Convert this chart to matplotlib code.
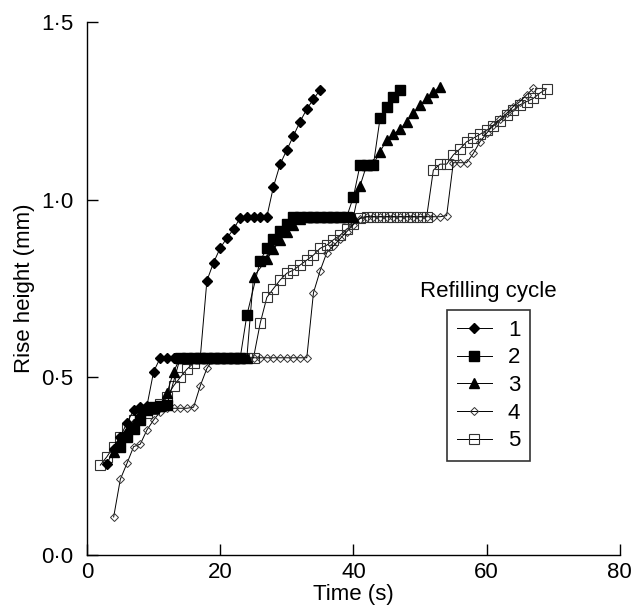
import matplotlib.pyplot as plt
from matplotlib.ticker import FuncFormatter

plt.rcParams['font.family'] = ['Liberation Sans', 'DejaVu Sans']

# rise height (mm) against time (s) for each refilling cycle
t1 = [3, 4, 5, 6, 7, 8, 9, 10, 11, 12, 13, 14, 15, 16, 17, 18, 19, 20, 21, 22,
      23, 24, 25, 26, 27, 28, 29, 30, 31, 32, 33, 34, 35]
h1 = [0.256, 0.298, 0.333, 0.372, 0.408, 0.417, 0.42, 0.516, 0.555, 0.555,
      0.555, 0.555, 0.555, 0.555, 0.555, 0.772, 0.823, 0.864, 0.892, 0.917,
      0.949, 0.952, 0.952, 0.952, 0.952, 1.037, 1.10, 1.14, 1.18, 1.22,
      1.255, 1.283, 1.309]

t2 = [5, 6, 7, 8, 9, 10, 11, 12, 14, 15, 16, 17, 18, 19, 20, 21, 22, 23, 24,
      26, 27, 28, 29, 30, 31, 32, 33, 34, 35, 36, 37, 38, 39, 40, 41, 42, 43,
      44, 45, 46, 47]
h2 = [0.305, 0.333, 0.354, 0.38, 0.408, 0.417, 0.42, 0.422, 0.555, 0.555,
      0.555, 0.555, 0.555, 0.555, 0.555, 0.555, 0.555, 0.555, 0.675, 0.828,
      0.863, 0.889, 0.913, 0.932, 0.952, 0.952, 0.952, 0.952, 0.952, 0.952,
      0.952, 0.952, 0.952, 1.008, 1.098, 1.098, 1.098, 1.229, 1.262, 1.29,
      1.31]

t3 = [4, 5, 6, 7, 8, 9, 10, 11, 12, 13, 14, 15, 16, 17, 18, 19, 20, 21, 22,
      23, 24, 25, 27, 28, 29, 30, 31, 32, 33, 34, 35, 36, 37, 38, 39, 40, 41,
      42, 43, 44, 45, 46, 47, 48, 49, 50, 51, 52, 53]
h3 = [0.29, 0.32, 0.35, 0.37, 0.40, 0.41, 0.415, 0.42, 0.455, 0.516, 0.555,
      0.555, 0.555, 0.555, 0.555, 0.555, 0.555, 0.555, 0.555, 0.555, 0.555,
      0.783, 0.832, 0.86, 0.887, 0.91, 0.929, 0.945, 0.95, 0.952, 0.952,
      0.952, 0.952, 0.952, 0.952, 0.952, 1.039, 1.098, 1.10, 1.135, 1.168,
      1.185, 1.198, 1.22, 1.243, 1.267, 1.285, 1.304, 1.318]

t4 = [4, 5, 6, 7, 8, 9, 10, 11, 12, 13, 14, 15, 16, 17, 18, 19, 20, 21, 22,
      23, 24, 25, 26, 27, 28, 29, 30, 31, 32, 33, 34, 35, 36, 37, 38, 39, 40,
      41, 42, 43, 44, 45, 46, 47, 48, 49, 50, 51, 52, 53, 54, 55, 56, 57, 58,
      59, 60, 61, 62, 63, 64, 65, 66, 67]
h4 = [0.107, 0.213, 0.258, 0.305, 0.312, 0.352, 0.38, 0.403, 0.413, 0.413,
      0.413, 0.413, 0.416, 0.476, 0.525, 0.553, 0.555, 0.555, 0.555, 0.555,
      0.555, 0.555, 0.555, 0.555, 0.555, 0.555, 0.555, 0.555, 0.555, 0.555,
      0.738, 0.80, 0.851, 0.87, 0.89, 0.91, 0.93, 0.947, 0.952, 0.952, 0.952,
      0.952, 0.952, 0.952, 0.952, 0.952, 0.952, 0.952, 0.952, 0.952, 0.955,
      1.104, 1.104, 1.104, 1.13, 1.163, 1.187, 1.21, 1.226, 1.243, 1.262,
      1.276, 1.295, 1.313]

t5 = [2, 3, 4, 5, 6, 7, 8, 9, 10, 11, 12, 13, 14, 15, 16, 17, 18, 19, 20, 21,
      22, 23, 24, 25, 26, 27, 28, 29, 30, 31, 32, 33, 34, 35, 36, 37, 38, 39,
      40, 41, 42, 43, 44, 45, 46, 47, 48, 49, 50, 51, 52, 53, 54, 55, 56, 57,
      58, 59, 60, 61, 62, 63, 64, 65, 66, 67, 68, 69]
h5 = [0.253, 0.277, 0.305, 0.333, 0.357, 0.38, 0.389, 0.40, 0.41, 0.425,
      0.446, 0.476, 0.50, 0.523, 0.54, 0.555, 0.555, 0.555, 0.555, 0.555,
      0.555, 0.555, 0.555, 0.555, 0.652, 0.725, 0.75, 0.774, 0.793, 0.802,
      0.816, 0.83, 0.844, 0.863, 0.872, 0.887, 0.90, 0.917, 0.932, 0.949,
      0.952, 0.952, 0.952, 0.952, 0.952, 0.952, 0.952, 0.952, 0.952, 0.952,
      1.083, 1.10, 1.10, 1.126, 1.143, 1.163, 1.173, 1.184, 1.196, 1.207,
      1.222, 1.238, 1.252, 1.267, 1.276, 1.285, 1.30, 1.312]

cycles = ['1', '2', '3', '4', '5']

FS = 16

fig = plt.figure(figsize=(6.32, 6.07), dpi=100)
ax = fig.add_axes([0.1377, 0.0857, 0.843, 0.878])

line_kw = dict(color='black', lw=0.7)
ax.plot(t5, h5, marker='s', ms=7.5, mfc='none', mec='#333333', mew=0.8,
        label=cycles[4], **line_kw)
ax.plot(t4, h4, marker='D', ms=4.2, mfc='none', mec='#333333', mew=0.7,
        label=cycles[3], **line_kw)
ax.plot(t3, h3, marker='^', ms=7, mfc='black', mec='black',
        label=cycles[2], **line_kw)
ax.plot(t1, h1, marker='D', ms=4.8, mfc='black', mec='black',
        label=cycles[0], **line_kw)
ax.plot(t2, h2, marker='s', ms=7.5, mfc='black', mec='black',
        label=cycles[1], **line_kw)

ax.set_xlim(0, 80)
ax.set_ylim(0, 1.5)
ax.set_xticks([0, 20, 40, 60, 80])
ax.set_yticks([0, 0.5, 1.0, 1.5])
ax.yaxis.set_major_formatter(FuncFormatter(lambda v, p: f'{v:.1f}'.replace('.', '\u00b7')))
ax.tick_params(direction='in', length=8, width=1, labelsize=FS)
ax.tick_params(axis='x', pad=5)
ax.tick_params(axis='y', pad=10)
ax.spines['top'].set_visible(False)
ax.spines['right'].set_visible(False)
ax.spines['left'].set_linewidth(1)
ax.spines['bottom'].set_linewidth(1)
ax.set_xlabel('Time (s)', fontsize=FS, labelpad=1)
ax.set_ylabel('Rise height (mm)', fontsize=FS, labelpad=4)

# legend in cycle order, title sits above the framed box
handles, labels = ax.get_legend_handles_labels()
order = [labels.index(c) for c in cycles]
leg = ax.legend([handles[i] for i in order], [labels[i] for i in order],
                loc='upper left', bbox_to_anchor=(0.675, 0.46), borderaxespad=0,
                frameon=True, fancybox=False, edgecolor='black', fontsize=FS,
                handlelength=1.6, labelspacing=0.3, borderpad=0.45,
                handletextpad=0.7)
leg.get_frame().set_linewidth(1.2)
ax.text(0.754, 0.475, 'Refilling cycle', transform=ax.transAxes,
        ha='center', va='bottom', fontsize=FS)

fig.savefig('out.png', dpi=100)
